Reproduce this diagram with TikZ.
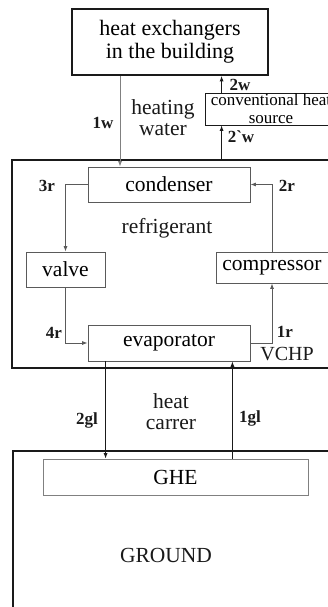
\documentclass[tikz,border=0pt]{standalone}
\usepackage{fontspec}
\setmainfont{Liberation Serif}
\usetikzlibrary{arrows.meta,calc,positioning}
\definecolor{vchpInk}{HTML}{1A1A1A}
\definecolor{vchpGrey}{HTML}{5A5A5A}
\definecolor{vchpPipe}{HTML}{808080}
\begin{document}
\begin{tikzpicture}[x=1pt,y=-1pt,>={Latex[length=5.5pt,width=4pt]},line join=miter]
\path[fill=white,use as bounding box] (0,0) rectangle (327,607);
\tikzset{frame/.style={draw=vchpInk,line width=1.8pt,inner sep=0pt},unit/.style={draw=vchpGrey,line width=0.8pt,inner sep=0pt,font=\fontsize{21.5}{21}\selectfont},pipe/.style={draw=vchpInk,line width=0.8pt},tag/.style={font=\fontsize{17}{17}\selectfont\bfseries,text=vchpInk},word/.style={font=\fontsize{21.5}{21}\selectfont,align=center,text=vchpInk}}
% frames
\node[frame,minimum width=196pt,minimum height=66pt,align=center,font=\fontsize{22}{23}\selectfont] (building) at (170,42) {heat exchangers\\in the building};
\node[frame,minimum width=330pt,minimum height=208pt] (vchp) at (177,264) {};
\node[frame,minimum width=330pt,minimum height=180pt] (ground) at (178,541) {};
% units
\node[unit,draw=vchpInk,minimum width=132pt,minimum height=32pt,align=center,font=\fontsize{17}{18}\selectfont] (conv) at (271,109) {conventional heat\\source};
\node[unit,minimum width=162pt,minimum height=35pt] (condenser) at (169,184.5) {condenser};
\node[unit,minimum width=79pt,minimum height=35pt] (valve) at (65.5,269.5) {valve};
\node[unit,minimum width=112pt,minimum height=31pt] (compressor) at (272,267.5) {compressor};
\node[unit,minimum width=162pt,minimum height=36pt] (evaporator) at (169,343) {evaporator};
\node[unit,draw=vchpPipe,minimum width=265pt,minimum height=36pt] (ghe) at (175.5,477) {GHE};
% water side
\draw[pipe,draw=vchpPipe,->] ([xshift=-50]building.south) -- ([xshift=-50]building.south |- condenser.north);
\draw[pipe,->] ([xshift=17]conv.south west |- vchp.north) -- ([xshift=17]conv.south west);
\draw[pipe,->] ([xshift=17]conv.north west) -- ([xshift=17]conv.north west |- building.south);
% refrigerant loop
\draw[pipe,draw=vchpGrey,->] (condenser.west) -| (valve.north);
\draw[pipe,draw=vchpGrey,->] (valve.south) |- (evaporator.west);
\draw[pipe,draw=vchpGrey,->] (evaporator.east) -| (compressor.south);
\draw[pipe,draw=vchpGrey,->] (compressor.north) |- (condenser.east);
% ground loop
\draw[pipe,->] ([xshift=18]evaporator.south west) -- ([xshift=18]evaporator.south west |- ghe.north);
\draw[pipe,->] ([xshift=-18]evaporator.south east |- ghe.north) -- ([xshift=-18]evaporator.south east);
% labels
\node[tag] (l1w) at (103,123) {1w}; \node[tag] (l2w) at (240,84.5) {2w}; \node[tag] (l2pw) at (241,137) {2\textasciigrave w};
\node[tag] (l3r) at (47,186) {3r}; \node[tag] (l2r) at (287,186) {2r}; \node[tag] (l4r) at (54,333) {4r}; \node[tag] (l1r) at (285,332) {1r};
\node[tag] (l2gl) at (87,420) {2gl}; \node[tag] (l1gl) at (250,418) {1gl};
\node[word] (water) at (163,117.5) {heating\\water}; \node[word] (refr) at (167,228) {refrigerant};
\node[word,font=\fontsize{20}{20}\selectfont] (vchplabel) at (287,354) {VCHP};
\node[word] (carrer) at (171,411.5) {heat\\carrer}; \node[word] (soil) at (166,555) {GROUND};
\end{tikzpicture}
\end{document}
